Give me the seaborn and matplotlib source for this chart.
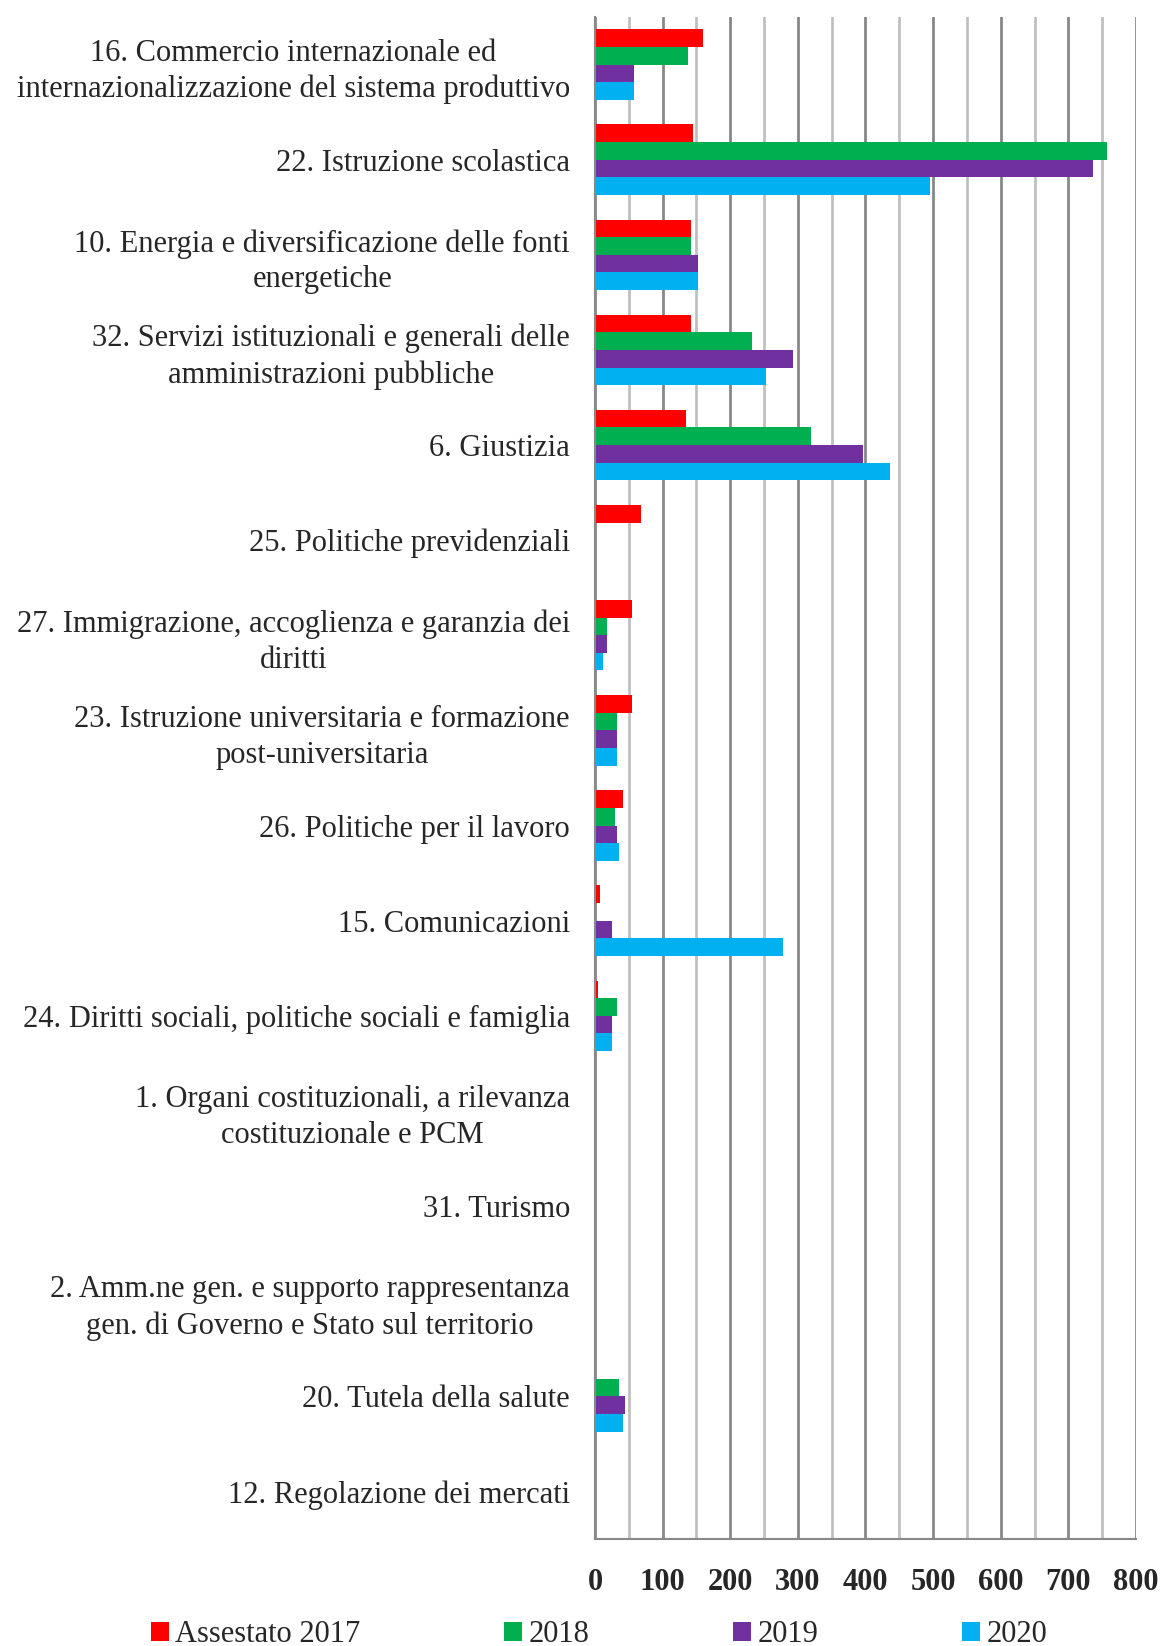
import matplotlib
matplotlib.use("Agg")
import matplotlib.pyplot as plt
from matplotlib.ticker import MultipleLocator, FixedLocator
from matplotlib.patches import Patch
import seaborn as sns
import pandas as pd
import numpy as np

categories = [
    "16. Commercio internazionale ed\ninternazionalizzazione del sistema produttivo",
    "22. Istruzione scolastica",
    "10. Energia e diversificazione delle fonti\nenergetiche",
    "32. Servizi istituzionali e generali delle\namministrazioni pubbliche",
    "6. Giustizia",
    "25. Politiche previdenziali",
    "27. Immigrazione, accoglienza e garanzia dei\ndiritti",
    "23. Istruzione universitaria e formazione\npost-universitaria",
    "26. Politiche per il lavoro",
    "15. Comunicazioni",
    "24. Diritti sociali, politiche sociali e famiglia",
    "1. Organi costituzionali, a rilevanza\ncostituzionale e PCM",
    "31. Turismo",
    "2. Amm.ne gen. e supporto rappresentanza\ngen. di Governo e Stato sul territorio",
    "20. Tutela della salute",
    "12. Regolazione dei mercati",
]
series_names = ["Assestato 2017", "2018", "2019", "2020"]
assestato_2017 = [160, 145, 142, 142, 135, 68, 55, 55, 42, 8, 5, 1, 1, 1, 1, 1]
v2018 = [138, 757, 142, 232, 320, 1, 18, 32, 29, 1, 32, 1, 1, 1, 36, 1]
v2019 = [58, 737, 152, 293, 396, 1, 18, 32, 32, 25, 25, 1, 1, 1, 45, 1]
v2020 = [58, 496, 152, 253, 436, 1, 12, 32, 35, 278, 25, 1, 1, 1, 42, 1]
x_ticks = [0, 100, 200, 300, 400, 500, 600, 700, 800]
colors = ["#FF0000", "#00B050", "#7030A0", "#00B0F0"]

rows = []
for name, vals in zip(series_names, [assestato_2017, v2018, v2019, v2020]):
    for c, v in zip(categories, vals):
        rows.append({"Categoria": c, "Serie": name, "Valore": v})
df = pd.DataFrame(rows)

sns.set_style("white")
plt.rcParams["font.family"] = ["Liberation Serif", "DejaVu Serif"]

fig = plt.figure(figsize=(11.7, 16.46), dpi=100)
ax = fig.add_axes([0.5085, 0.0650, 0.4624, 0.9247])

sns.barplot(data=df, y="Categoria", x="Valore", hue="Serie", order=categories,
            hue_order=series_names, palette=colors, orient="h", width=0.74,
            saturation=1, ax=ax, legend=False, linewidth=0)

ax.set_xlim(0, 800)
ax.set_ylim(len(categories) - 0.5, -0.5)
ax.set_xlabel("")
ax.set_ylabel("")
ax.set_axisbelow(True)

ax.xaxis.set_major_locator(FixedLocator(x_ticks))
ax.xaxis.set_minor_locator(MultipleLocator(50))
ax.grid(which="major", axis="x", color="#888888", linewidth=2)
ax.grid(which="minor", axis="x", color="#C0C0C0", linewidth=2)
ax.grid(which="major", axis="y", visible=False)

ax.tick_params(axis="x", which="major", length=8, width=1.5, color="#888888",
               direction="out", pad=13, labelsize=22)
ax.tick_params(axis="x", which="minor", length=0)
for lab in ax.get_xticklabels():
    lab.set_fontweight("bold")

ax.yaxis.set_minor_locator(FixedLocator(np.arange(-0.5, len(categories), 1.0)))
ax.tick_params(axis="y", which="major", length=0, pad=18, labelsize=22)
ax.tick_params(axis="y", which="minor", length=8, width=1.5, color="#888888", direction="out")
for lab in ax.get_yticklabels():
    lab.set_multialignment("center")
    lab.set_linespacing(1.3)

for s in ["top", "right"]:
    ax.spines[s].set_visible(False)
for s in ["left", "bottom"]:
    ax.spines[s].set_color("#888888")
    ax.spines[s].set_linewidth(1.5)

handles = [Patch(facecolor=c, edgecolor="none") for c in colors]
fig.legend(handles, series_names, loc="center", bbox_to_anchor=(0.512, 0.007),
           ncol=4, frameon=False, fontsize=22, handlelength=0.6, handleheight=0.6,
           handletextpad=0.2, columnspacing=4.7, borderaxespad=0)

fig.savefig("out.png", dpi=100)
